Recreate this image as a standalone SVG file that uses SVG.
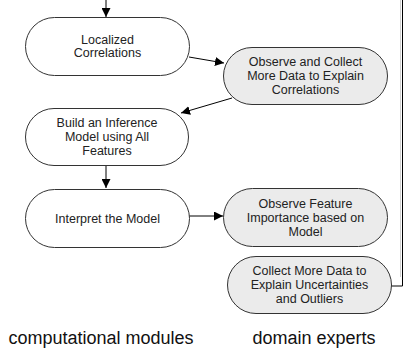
<svg xmlns="http://www.w3.org/2000/svg" width="403" height="362" viewBox="0 0 403 362">
  <style>
    .box { stroke: #333; stroke-width: 1; }
    .comp { fill: #ffffff; }
    .expert { fill: #ebebeb; }
    .lbl { font-family: "Liberation Sans", Arial, Helvetica, sans-serif; font-size: 12.5px; fill: #222; text-anchor: middle; }
    .cap { font-family: "Liberation Sans", Arial, Helvetica, sans-serif; font-size: 18px; fill: #111; text-anchor: middle; }
    .edge { stroke: #000; stroke-width: 1; fill: none; }
  </style>
  <defs>
    <marker id="arrow" viewBox="0 0 10 10" refX="10" refY="5" markerWidth="9" markerHeight="9" markerUnits="userSpaceOnUse" orient="auto">
      <path d="M0,0 L10,5 L0,10 z" fill="#000"/>
    </marker>
  </defs>

  <rect width="403" height="362" fill="#ffffff"/>

  <!-- connectors -->
  <g id="connectors">
    <line class="edge" x1="106" y1="0" x2="106" y2="17" marker-end="url(#arrow)"/>
    <line class="edge" x1="189" y1="57" x2="224" y2="63" marker-end="url(#arrow)"/>
    <line class="edge" x1="232" y1="98" x2="181" y2="113" marker-end="url(#arrow)"/>
    <line class="edge" x1="106" y1="165" x2="106" y2="188" marker-end="url(#arrow)"/>
    <line class="edge" x1="189" y1="216" x2="223" y2="216" marker-end="url(#arrow)"/>
    <polyline class="edge" points="391,286 402.5,286 402.5,0"/>
    <line x1="400.5" y1="0" x2="400.5" y2="277" stroke="#d0d0d0" stroke-width="1"/>
  </g>

  <!-- computational modules -->
  <g id="localized-correlations">
    <rect class="box comp" x="25.5" y="17.5" width="164" height="58" rx="29" ry="29"/>
    <text class="lbl" x="107.5" y="44">Localized</text>
    <text class="lbl" x="107.5" y="57">Correlations</text>
  </g>

  <g id="build-model">
    <rect class="box comp" x="25.5" y="108.5" width="163" height="57" rx="28.5" ry="28.5"/>
    <text class="lbl" x="107" y="127">Build an Inference</text>
    <text class="lbl" x="107" y="141">Model using All</text>
    <text class="lbl" x="107" y="155">Features</text>
  </g>

  <g id="interpret-model">
    <rect class="box comp" x="25.5" y="189.5" width="164" height="58" rx="29" ry="29"/>
    <text class="lbl" x="107.5" y="222.5">Interpret the Model</text>
  </g>

  <!-- domain experts -->
  <g id="observe-collect">
    <rect class="box expert" x="223.5" y="47.5" width="164" height="57" rx="28.5" ry="28.5"/>
    <text class="lbl" x="305.5" y="66">Observe and Collect</text>
    <text class="lbl" x="305.5" y="80">More Data to Explain</text>
    <text class="lbl" x="305.5" y="94">Correlations</text>
  </g>

  <g id="observe-importance">
    <rect class="box expert" x="223.5" y="188.5" width="164" height="58" rx="29" ry="29"/>
    <text class="lbl" x="305.5" y="207.5">Observe Feature</text>
    <text class="lbl" x="305.5" y="221.5">Importance based on</text>
    <text class="lbl" x="305.5" y="235.5">Model</text>
  </g>

  <g id="collect-more">
    <rect class="box expert" x="227.5" y="256.5" width="164" height="57" rx="28.5" ry="28.5"/>
    <text class="lbl" x="309.5" y="275">Collect More Data to</text>
    <text class="lbl" x="309.5" y="289">Explain Uncertainties</text>
    <text class="lbl" x="309.5" y="303">and Outliers</text>
  </g>

  <!-- column captions -->
  <g id="captions">
    <text class="cap" x="101" y="344">computational modules</text>
    <text class="cap" x="314" y="344">domain experts</text>
  </g>
</svg>
